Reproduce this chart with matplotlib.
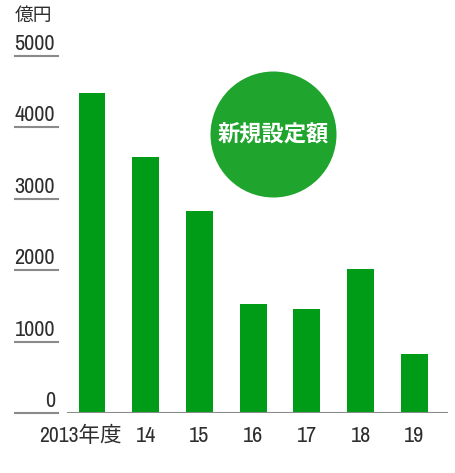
import matplotlib
matplotlib.use("Agg")
import matplotlib.pyplot as plt
from matplotlib.patches import Ellipse
from matplotlib.transforms import blended_transform_factory

NARROW = ['Archivo Narrow', 'Noto Sans CJK JP', 'DejaVu Sans']
CJK = ['Noto Sans CJK JP', 'DejaVu Sans']
plt.rcParams['font.family'] = NARROW

YEARS = ["2013年度", "14", "15", "16", "17", "18", "19"]
VALUES = [4480, 3580, 2830, 1530, 1460, 2010, 830]
YTICKS = [0, 1000, 2000, 3000, 4000, 5000]
UNIT = "億円"
BADGE = "新規設定額"

BAR_GREEN = "#009c18"
BADGE_GREEN = "#1fa52e"
TEXT = "#2e2e2e"
RULE = "#8a8a8a"

W, H = 455, 473
fig = plt.figure(figsize=(W / 100, H / 100), dpi=100)
fig.patch.set_facecolor("white")

# axes placed so 0 sits at y=413px and 5000 at y=56px
ax = fig.add_axes([66.7 / W, (H - 413) / H, (447.7 - 66.7) / W, (413 - 56) / H])
ax.set_xlim(-0.471, 6.62)
ax.set_ylim(0, 5000)
ax.axis("off")

x = list(range(len(VALUES)))
ax.bar(x, VALUES, width=0.5, color=BAR_GREEN, zorder=2)
ax.axhline(0, color=RULE, lw=1.5, zorder=3)

# y labels with underlines, sitting left of the plot
tr = blended_transform_factory(fig.transFigure, ax.transData)
for t in YTICKS:
    ax.plot([15 / W, 58 / W], [t, t], color=RULE, lw=1.5, transform=tr, clip_on=False)
    ax.text(55 / W, t + 85, str(t), transform=tr, ha="right", va="baseline",
            fontsize=16, color=TEXT)
fig.text(15 / W, 1 - 5 / H, UNIT, ha="left", va="top",
         fontsize=13.5, color=TEXT, family=CJK)

# x labels
xtr = blended_transform_factory(ax.transData, fig.transFigure)
for i, lab in enumerate(YEARS):
    xi = i - 0.214 if i == 0 else i
    ax.text(xi, (H - 436) / H, lab, transform=xtr, ha="center", va="center",
            fontsize=15.5 if i == 0 else 16, color=TEXT)

# badge
cx, cy, r = 273.5, 134.5, 63
badge = Ellipse((cx / W, 1 - cy / H), 2 * r / W, 2 * r / H, transform=fig.transFigure,
                facecolor=BADGE_GREEN, edgecolor="none", zorder=5)
fig.patches.append(badge)
fig.text(cx / W, 1 - cy / H, BADGE, ha="center", va="center", color="white",
         fontsize=16, fontweight="bold", family=CJK, zorder=6)

fig.savefig("out.png", dpi=100, facecolor="white")
